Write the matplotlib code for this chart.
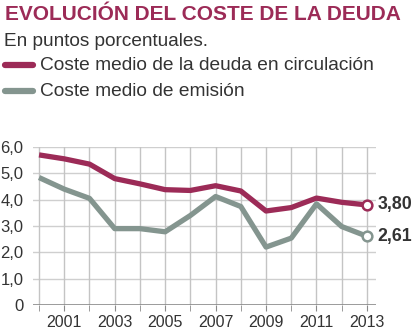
import matplotlib.pyplot as plt

plt.rcParams['font.family'] = ['Liberation Sans', 'DejaVu Sans']

years = list(range(2000, 2014))
coste_circulacion = [5.70, 5.55, 5.35, 4.80, 4.60, 4.38, 4.35, 4.53, 4.33, 3.57, 3.70, 4.06, 3.90, 3.80]
coste_emision = [4.84, 4.40, 4.05, 2.90, 2.90, 2.78, 3.40, 4.12, 3.74, 2.20, 2.54, 3.84, 2.98, 2.61]
yticks = [0, 1, 2, 3, 4, 5, 6]
ytick_labels = ["0", "1,0", "2,0", "3,0", "4,0", "5,0", "6,0"]
xtick_years = [2001, 2003, 2005, 2007, 2009, 2011, 2013]

RED = "#9c2b57"
GRAY = "#84958f"
TEXT = "#333333"

fig = plt.figure(figsize=(4.14, 3.34), dpi=100)
ax = fig.add_axes([33 / 414, 29 / 334, 343 / 414, 158 / 334])

# grid: light horizontal lines, vertical line per year
for v in yticks[1:]:
    ax.axhline(v, color="#cfcfcf", lw=1, zorder=1)
for yr in years:
    ax.plot([yr, yr], [0, 6], color="#c4c4c4", lw=1, zorder=1)
ax.axhline(0, color="#8a8a8a", lw=1.2, zorder=2)

ax.plot(years, coste_circulacion, color=RED, lw=3.8, solid_joinstyle="round",
        solid_capstyle="butt", zorder=3, clip_on=False)
ax.plot(years, coste_emision, color=GRAY, lw=3.8, solid_joinstyle="round",
        solid_capstyle="butt", zorder=3, clip_on=False)
ax.plot(years[-1], coste_circulacion[-1], "o", ms=7, mfc="white", mec=RED, mew=1.8,
        zorder=4, clip_on=False)
ax.plot(years[-1], coste_emision[-1], "o", ms=7, mfc="white", mec=GRAY, mew=1.8,
        zorder=4, clip_on=False)

for val in (coste_circulacion[-1], coste_emision[-1]):
    ax.annotate(f"{val:.2f}".replace(".", ","), (years[-1], val), xytext=(7.5, 0),
                textcoords="offset points", va="center", ha="left",
                fontsize=12.8, fontweight="bold", color=TEXT, annotation_clip=False)

ax.set_xlim(1999.76, 2013.36)
ax.set_ylim(0, 6)
ax.set_xticks(years, minor=True)
ax.set_xticks(xtick_years)
ax.set_xticklabels([str(y) for y in xtick_years], fontsize=11.5, color=TEXT)
ax.set_yticks(yticks)
ax.set_yticklabels(ytick_labels, fontsize=12, color=TEXT)
ax.tick_params(axis="x", which="both", length=4, color="#8a8a8a", pad=3)
ax.tick_params(axis="y", length=0, pad=7)
for s in ax.spines.values():
    s.set_visible(False)

fig.text(5 / 414, 1 - 14 / 334, "EVOLUCIÓN DEL COSTE DE LA DEUDA", fontsize=15,
         fontweight="bold", color=RED, va="center", ha="left")
fig.text(4 / 414, 1 - 41 / 334, "En puntos porcentuales.", fontsize=13.7,
         color=TEXT, va="center", ha="left")
for i, (label, col) in enumerate([("Coste medio de la deuda en circulación", RED),
                                  ("Coste medio de emisión", GRAY)]):
    yy = 1 - (65 + 26 * i) / 334
    fig.add_artist(plt.Line2D([5 / 414, 33 / 414], [yy, yy], color=col, lw=4.5,
                              solid_capstyle="round"))
    fig.text(40 / 414, yy, label, fontsize=13.8, color=TEXT, va="center", ha="left")

fig.savefig("out.png", dpi=100)
